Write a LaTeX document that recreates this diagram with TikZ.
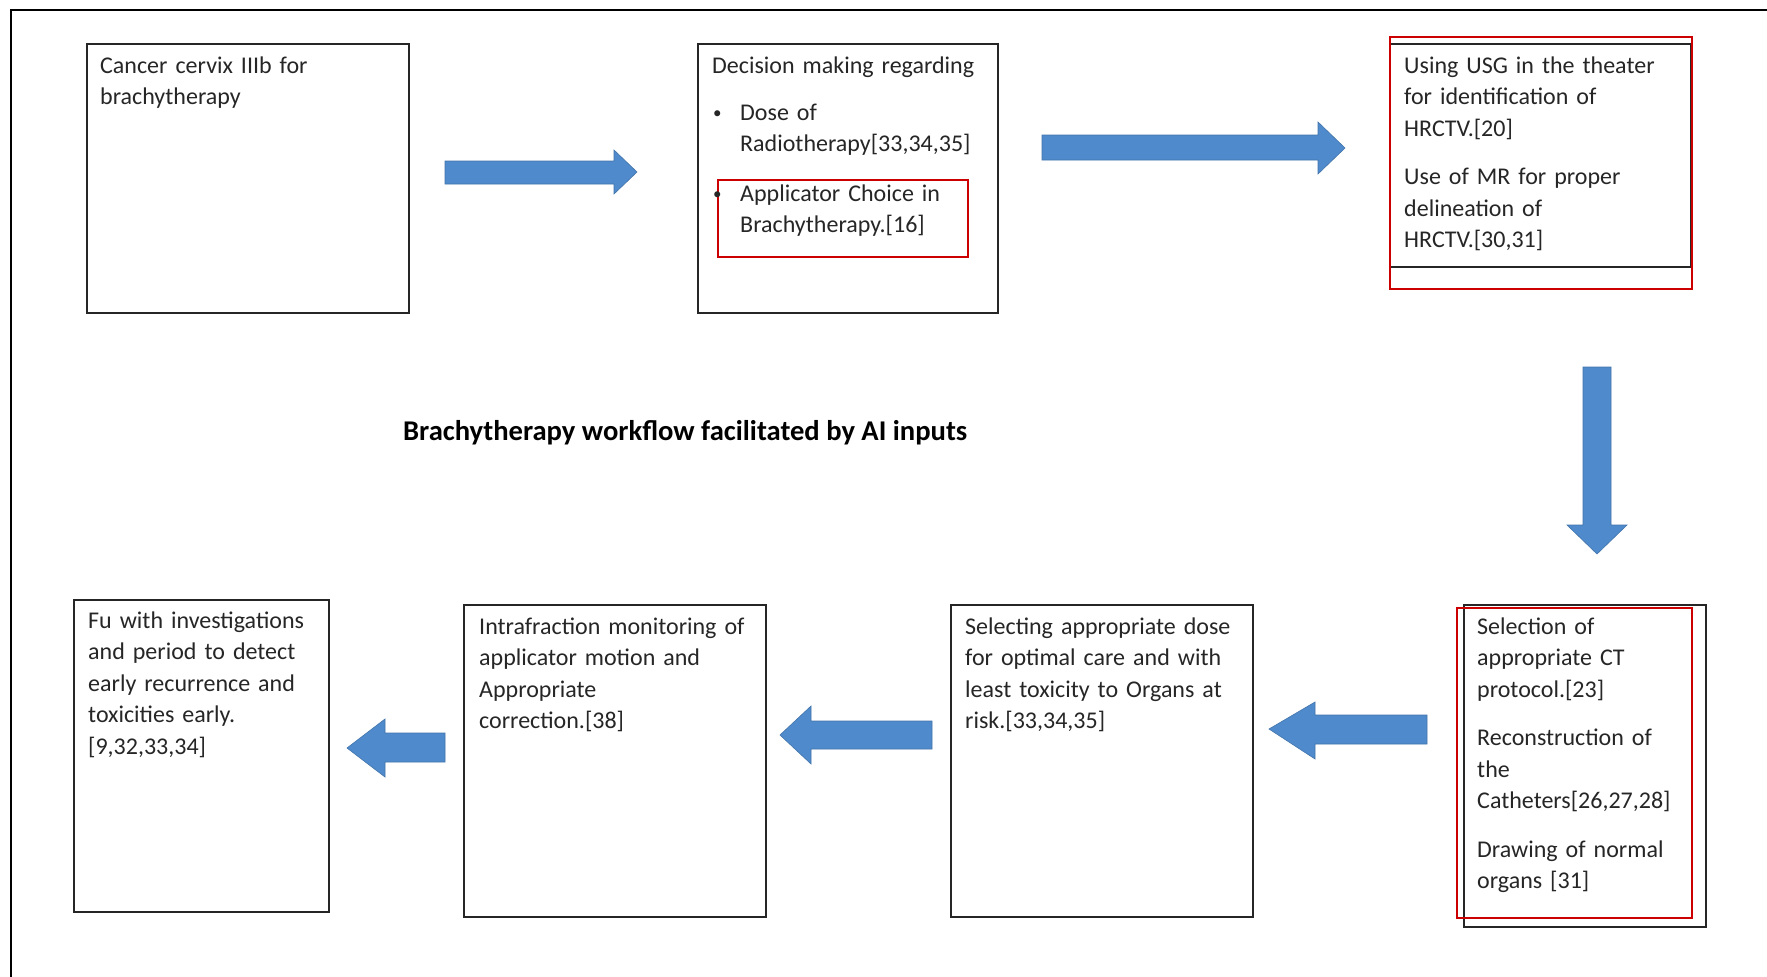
\documentclass[tikz,border=0pt]{standalone}
\usepackage{fontspec}
\setmainfont{Carlito}
\definecolor{arrowblue}{RGB}{79,139,204}
\definecolor{arrowedge}{RGB}{66,116,170}
\definecolor{markred}{RGB}{204,0,0}
\begin{document}
\begin{tikzpicture}[x=1pt,y=-1pt,
  box/.style={draw=black!85, line width=1.8pt, anchor=north west, inner sep=0pt, outer sep=0pt},
  redbox/.style={draw=markred, line width=1.4pt, anchor=north west, inner sep=0pt, outer sep=0pt},
  txt/.style={anchor=base west, inner sep=0pt, align=left, text width=330pt, text=black!85,
    font=\fontsize{24}{31.5}\selectfont},
  bul/.style={anchor=base west, inner sep=0pt, text=black!85, font=\fontsize{17}{20}\selectfont},
  barrow/.style={fill=arrowblue, draw=arrowedge, line width=0.6pt, line join=miter},
  titletxt/.style={anchor=base west, inner sep=0pt, text=black, font=\fontsize{28.6}{32}\selectfont\bfseries}]
\useasboundingbox (0,0) rectangle (1767,977);
\fill[white] (0,0) rectangle (1767,977);
% frame
\draw[line width=2.2pt, black] (11,977) -- (11,10) -- (1767,10);

% top row boxes
\node[box, minimum width=322pt, minimum height=269pt] (b1) at (87,44) {};
\node[box, minimum width=300pt, minimum height=269pt] (b2) at (698,44) {};
\node[box, minimum width=301pt, minimum height=223pt] (b3) at (1390,44) {};
\node[redbox, minimum width=250pt, minimum height=77pt] (r2) at (718,180) {};
\node[redbox, minimum width=302pt, minimum height=252pt] (r3) at (1390,37) {};

% bottom row boxes
\node[box, minimum width=255pt, minimum height=312pt] (b7) at (74,600) {};
\node[box, minimum width=302pt, minimum height=312pt] (b6) at (464,605) {};
\node[box, minimum width=302pt, minimum height=312pt] (b5) at (951,605) {};
\node[box, minimum width=242pt, minimum height=322pt] (b4) at (1464,605) {};
\node[redbox, minimum width=235pt, minimum height=310pt] (r4) at (1457,608) {};

% texts
\node[txt] (t1) at (100,73) {Cancer cervix IIIb for\\brachytherapy};
\node[txt] (t2) at (712,73) {Decision making regarding};
\node[bul] (t2b1) at (713,118) {\textbullet};
\node[txt] (t2a) at (740,120) {Dose of\\Radiotherapy[33,34,35]};
\node[bul] (t2b2) at (713,199) {\textbullet};
\node[txt] (t2c) at (740,201) {Applicator Choice in\\Brachytherapy.[16]};
\node[txt] (t3) at (1404,73) {Using USG in the theater\\for identification of\\HRCTV.[20]\\[17pt]Use of MR for proper\\delineation of\\HRCTV.[30,31]};
\node[txt] (t4) at (1477,634) {Selection of\\appropriate CT\\protocol.[23]\\[17pt]Reconstruction of\\the\\Catheters[26,27,28]\\[17pt]Drawing of normal\\organs [31]};
\node[txt] (t5) at (965,634) {Selecting appropriate dose\\for optimal care and with\\least toxicity to Organs at\\risk.[33,34,35]};
\node[txt] (t6) at (479,634) {Intrafraction monitoring of\\applicator motion and\\Appropriate\\correction.[38]};
\node[txt] (t7) at (88,628) {Fu with investigations\\and period to detect\\early recurrence and\\toxicities early.\\{}[9,32,33,34]};

% title
\node[titletxt] (title) at (403,440) {Brachytherapy workflow facilitated by AI inputs};

% block arrows
\fill[barrow] (445,161) -- (614,161) -- (614,150) -- (637,172) -- (614,194) -- (614,184) -- (445,184) -- cycle;
\fill[barrow] (1042,135) -- (1318,135) -- (1318,122) -- (1345,148) -- (1318,174) -- (1318,160) -- (1042,160) -- cycle;
\fill[barrow] (1583,367) -- (1611,367) -- (1611,525) -- (1627,525) -- (1597,554) -- (1567,525) -- (1583,525) -- cycle;
\fill[barrow] (1427,715) -- (1315,715) -- (1315,702) -- (1269,729) -- (1315,759) -- (1315,744) -- (1427,744) -- cycle;
\fill[barrow] (932,721) -- (811,721) -- (811,706) -- (780,735) -- (811,764) -- (811,749) -- (932,749) -- cycle;
\fill[barrow] (445,733) -- (385,733) -- (385,719) -- (347,748) -- (385,777) -- (385,762) -- (445,762) -- cycle;
\end{tikzpicture}
\end{document}
